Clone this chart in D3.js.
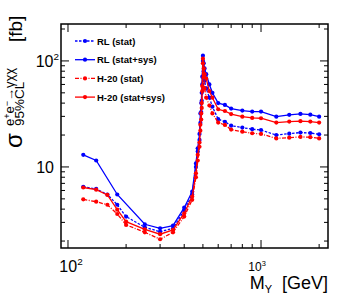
<!DOCTYPE html>
<html>
<head>
<meta charset="utf-8">
<script src="https://cdn.jsdelivr.net/npm/d3@7"></script>
<style>
  body { margin: 0; background: #fff; }
  text { font-family: "Liberation Sans", Arial, Helvetica, sans-serif; }
</style>
</head>
<body>
<div id="graphic"></div>
<script>
// masses in GeV, limits in fb
var masses = [120, 140, 160, 180, 200, 250, 300, 350, 400, 440, 460, 470, 480, 485, 490, 493, 496, 500, 505, 510, 520, 540, 560, 600, 650, 700, 800, 900, 1000, 1200, 1400, 1600, 1800, 2000];
var rlStat = [6.5, 6.2, 5.5, 4.4, 3.4, 2.7, 2.45, 2.64, 3.9, 5.5, 10, 14, 18, 26, 33, 42, 60, 100, 80, 65, 55, 45, 37, 28.2, 26.7, 24.5, 23.5, 22.7, 22.3, 20, 20.6, 21.1, 20.9, 20.3];
var h20Sys = [6.4, 6.1, 5.45, 3.95, 3.05, 2.58, 2.32, 2.55, 3.66, 5.25, 8.7, 13, 17, 25, 32, 40, 58, 105, 85, 75, 68, 52, 45, 35, 33.7, 31.5, 29.8, 29, 28.8, 26.2, 26.8, 27, 26.8, 26.2];
var h20Stat = [4.95, 4.7, 4.4, 3.6, 2.84, 2.42, 2.08, 2.42, 3.4, 4.9, 8, 11.5, 15.5, 22, 28, 36, 52, 95, 70, 55, 45, 38, 32, 26.2, 24.9, 22.5, 21.5, 20.8, 20.5, 18.6, 18.9, 19.2, 19.1, 18.6];
var massesSys = [120, 140, 180, 250, 300, 350, 400, 440, 460, 470, 480, 485, 490, 493, 496, 500, 505, 510, 520, 540, 560, 600, 650, 700, 800, 900, 1000, 1200, 1400, 1600, 1800, 2000];
var rlSys = [13, 11.5, 5.5, 2.88, 2.64, 2.8, 4.13, 5.85, 10.8, 15, 20.5, 32, 40, 50, 71, 112, 95, 85, 75, 60, 50, 40, 38.5, 35.5, 34, 33.3, 33.3, 29.8, 31, 31.6, 31.1, 29.8];

var legendLabels = ["RL (stat)", "RL (stat+sys)", "H-20 (stat)", "H-20 (stat+sys)"];
var xMinor = [200, 300, 400, 500, 600, 700, 800, 900, 2000];
var xMajor = [100, 1000];
var yMinor = [2, 3, 4, 5, 6, 7, 8, 9, 20, 30, 40, 50, 60, 70, 80, 90, 200];
var yMajor = [10, 100];

var W = 357, H = 302;
var pLeft = 61, pRight = 328, pTop = 24, pBottom = 248;

var svg = d3.select("#graphic").append("svg").attr("width", W).attr("height", H);

var x = d3.scaleLog().domain([92, 2223]).range([pLeft, pRight]);
var y = d3.scaleLog().domain([1.72, 223]).range([pBottom, pTop]);

var series = [
  {m: masses, v: rlStat, color: "#0000ff", dash: "2.5,1.5"},
  {m: massesSys, v: rlSys, color: "#0000ff", dash: null},
  {m: masses, v: h20Stat, color: "#ff0000", dash: "4,1.5,1,1.5"},
  {m: masses, v: h20Sys, color: "#ff0000", dash: null}
];

var line = d3.line().x(function(d) { return x(d[0]); }).y(function(d) { return y(d[1]); });

var g = svg.append("g");
series.forEach(function(s) {
  var pts = s.m.map(function(m, i) { return [m, s.v[i]]; });
  g.append("path").attr("d", line(pts)).attr("fill", "none")
    .attr("stroke", s.color).attr("stroke-width", 1.3)
    .attr("stroke-dasharray", s.dash);
  g.selectAll(null).data(pts).enter().append("circle")
    .attr("cx", function(d) { return x(d[0]); })
    .attr("cy", function(d) { return y(d[1]); })
    .attr("r", 2.1).attr("fill", s.color);
});

// ticks, pointing inward on all four sides
function ticks(vals, len, axis) {
  vals.forEach(function(v) {
    if (axis == "x") {
      var px = x(v);
      svg.append("line").attr("x1", px).attr("x2", px).attr("y1", pBottom).attr("y2", pBottom - len).attr("stroke", "#000");
      svg.append("line").attr("x1", px).attr("x2", px).attr("y1", pTop).attr("y2", pTop + len).attr("stroke", "#000");
    } else {
      var py = y(v);
      svg.append("line").attr("x1", pLeft).attr("x2", pLeft + len).attr("y1", py).attr("y2", py).attr("stroke", "#000");
      svg.append("line").attr("x1", pRight).attr("x2", pRight - len).attr("y1", py).attr("y2", py).attr("stroke", "#000");
    }
  });
}
ticks(xMinor, 4, "x");
ticks(xMajor, 8, "x");
ticks(yMinor, 4, "y");
ticks(yMajor, 8, "y");

svg.append("rect").attr("x", pLeft).attr("y", pTop).attr("width", pRight - pLeft).attr("height", pBottom - pTop)
  .attr("fill", "none").attr("stroke", "#000").attr("stroke-width", 1.5);

// tick labels
function powLabel(px, py, base, exp, size, anchor) {
  var t = svg.append("text").attr("x", px).attr("y", py).attr("font-size", size).attr("text-anchor", anchor);
  t.append("tspan").text(base);
  if (exp) t.append("tspan").attr("dy", -size * 0.45).attr("font-size", size * 0.62).text(exp);
}
powLabel(59, y(100) + 6, "10", "2", 16, "end");
powLabel(54, y(10) + 6, "10", "", 16, "end");
powLabel(x(100) + 3, 272, "10", "2", 16, "middle");
powLabel(x(1000) - 4, 271, "10", "3", 12, "middle");

// x title
var xt = svg.append("text").attr("x", pRight).attr("y", 289).attr("font-size", 18).attr("text-anchor", "end");
xt.append("tspan").text("M");
xt.append("tspan").attr("font-size", 11).attr("dy", 4).text("Y");
xt.append("tspan").attr("dy", -4).attr("xml:space", "preserve").text("  [GeV]");

// y title
var yt = svg.append("g").attr("transform", "translate(22,148) rotate(-90)");
yt.append("text").attr("x", 0).attr("y", 0).attr("font-size", 24).text("σ");
var sup = yt.append("text").attr("x", 22).attr("y", -8).attr("font-size", 13);
sup.append("tspan").text("e");
sup.append("tspan").attr("font-size", 9).attr("dy", -4).text("+");
sup.append("tspan").attr("dy", 4).text("e");
sup.append("tspan").attr("font-size", 9).attr("dy", -4).text("−");
sup.append("tspan").attr("dy", 4).text("→γχχ");
yt.append("text").attr("x", 22).attr("y", 2).attr("font-size", 13.5).text("95%CL");
yt.append("text").attr("x", 106).attr("y", 0).attr("font-size", 19).text("[fb]");

// legend
var leg = svg.append("g");
series.forEach(function(s, i) {
  var ly = 41 + i * 18.7;
  leg.append("line").attr("x1", 75).attr("x2", 95).attr("y1", ly).attr("y2", ly)
    .attr("stroke", s.color).attr("stroke-width", 1.3).attr("stroke-dasharray", s.dash);
  leg.append("circle").attr("cx", 85).attr("cy", ly).attr("r", 2.1).attr("fill", s.color);
  leg.append("text").attr("x", 97).attr("y", ly + 3.5).attr("font-size", 9.5).attr("font-weight", "bold").text(legendLabels[i]);
});
</script>
</body>
</html>
